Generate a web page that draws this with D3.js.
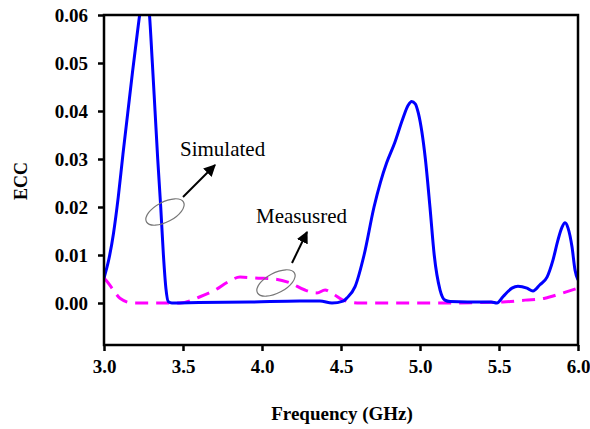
<!DOCTYPE html>
<html><head><meta charset="utf-8">
<script src="https://cdn.jsdelivr.net/npm/d3@7"></script>
<style>body{margin:0;background:#fff;} svg{display:block;} text{font-family:"Liberation Serif",serif;}</style>
</head><body>
<svg id="c" width="590" height="429"></svg>
<script>
const xTicks = [3.0, 3.5, 4.0, 4.5, 5.0, 5.5, 6.0];
const yTicks = [0.00, 0.01, 0.02, 0.03, 0.04, 0.05, 0.06];
const simFreq = [3.0,3.03,3.06,3.09,3.12,3.15,3.18,3.21,3.235,3.258,3.282,3.306,3.323,3.34,3.359,3.376,3.392,3.407,3.43,3.6,3.924,4.24,4.367,4.443,4.513,4.536,4.589,4.646,4.709,4.75,4.789,4.84,4.89,4.925,4.947,4.97,4.99,5.034,5.063,5.09,5.127,5.158,5.19,5.3,5.45,5.487,5.525,5.582,5.62,5.677,5.715,5.759,5.804,5.842,5.873,5.899,5.918,5.937,5.962,5.981,6.0];
const simECC = [0.0052,0.009,0.0145,0.022,0.031,0.0395,0.048,0.056,0.062,0.0645,0.062,0.05,0.04,0.03,0.02,0.01,0.003,0.0003,0.0,0.0001,0.0002,0.0004,0.0004,0.0,0.0004,0.001,0.0034,0.01,0.02,0.0252,0.0292,0.0334,0.0383,0.0412,0.042,0.0415,0.0395,0.03,0.02,0.01,0.0027,0.0006,0.0003,0.0002,0.0002,0.0,0.0013,0.0031,0.0035,0.0031,0.0025,0.0038,0.0054,0.009,0.0131,0.0158,0.0167,0.0156,0.0117,0.0069,0.0048];
const measFreq = [3.0,3.017,3.059,3.101,3.184,3.481,3.608,3.703,3.785,3.861,3.956,4.082,4.177,4.272,4.348,4.399,4.449,4.513,4.62,5.127,5.525,5.665,5.791,5.886,6.0];
const measECC = [0.0052,0.0046,0.0027,0.001,0.0,0.0,0.0013,0.0027,0.0044,0.0054,0.0052,0.005,0.0042,0.0027,0.0021,0.0027,0.0019,0.0006,0.0,0.0,0.0002,0.0006,0.001,0.0019,0.0031];

const svg = d3.select('#c');
const L=104, R=578, T=15, B=345;
const x = d3.scaleLinear().domain([3,6]).range([L,R]);
const y = d3.scaleLinear().domain([0,0.06]).range([303,T]);

svg.append('defs').append('clipPath').attr('id','clip')
  .append('rect').attr('x',L).attr('y',T).attr('width',R-L).attr('height',B-T);
svg.select('defs').append('marker').attr('id','arr').attr('viewBox','0 0 10 10')
  .attr('refX',9).attr('refY',5).attr('markerWidth',6).attr('markerHeight',6)
  .attr('markerUnits','strokeWidth').attr('orient','auto')
  .append('path').attr('d','M0,0 L10,5 L0,10 z').attr('fill','#000');

const line = d3.line().x(d=>x(d[0])).y(d=>y(d[1])).curve(d3.curveMonotoneX);
const g = svg.append('g').attr('clip-path','url(#clip)');
g.append('path').datum(measFreq.map((f,i)=>[f,measECC[i]])).attr('d',line)
  .attr('fill','none').attr('stroke','#ff00ff').attr('stroke-width',3).attr('stroke-dasharray','13,8');
g.append('path').datum(simFreq.map((f,i)=>[f,simECC[i]])).attr('d',line)
  .attr('fill','none').attr('stroke','#0000ff').attr('stroke-width',3);

// frame
svg.append('rect').attr('x',L).attr('y',T).attr('width',R-L).attr('height',B-T)
  .attr('fill','none').attr('stroke','#000').attr('stroke-width',2.5);

const fontF = '"Liberation Serif", serif';
function boldify(sel, size){
  sel.style('font-family',fontF).style('font-weight','bold').style('font-size',size+'px').attr('fill','#000');
}
const xAxis = svg.append('g').attr('transform',`translate(0,${B})`)
  .call(d3.axisBottom(x).tickValues(xTicks).tickFormat(d3.format('.1f')).tickSize(6).tickSizeOuter(0));
const yAxis = svg.append('g').attr('transform',`translate(${L},0)`)
  .call(d3.axisLeft(y).tickValues(yTicks).tickFormat(d3.format('.2f')).tickSize(6).tickSizeOuter(0));
[xAxis,yAxis].forEach(a=>{
  a.attr('font-family',fontF);
  a.select('.domain').remove();
  a.selectAll('line').attr('stroke','#000').attr('stroke-width',2.5);
  boldify(a.selectAll('text'), 19);
});
xAxis.selectAll('text').attr('dy',0).attr('y',28);
yAxis.selectAll('text').attr('x',-16).attr('dy','0.35em');

boldify(svg.append('text').attr('x',342).attr('y',420).attr('text-anchor','middle').text('Frequency (GHz)'), 19);
boldify(svg.append('text').attr('transform','translate(27,181) rotate(-90)').attr('text-anchor','middle').text('ECC'), 18);

// annotations
const ann = svg.append('g');
ann.append('ellipse').attr('cx',165).attr('cy',212).attr('rx',21).attr('ry',10)
  .attr('transform','rotate(-28,165,212)').attr('fill','none').attr('stroke','#777').attr('stroke-width',1.2);
ann.append('line').attr('x1',183).attr('y1',197).attr('x2',215).attr('y2',165)
  .attr('stroke','#000').attr('stroke-width',2).attr('marker-end','url(#arr)');
ann.append('text').attr('x',180).attr('y',156).style('font-family',fontF).style('font-size','21px').text('Simulated');
ann.append('ellipse').attr('cx',276).attr('cy',283).attr('rx',21).attr('ry',10)
  .attr('transform','rotate(-28,276,283)').attr('fill','none').attr('stroke','#777').attr('stroke-width',1.2);
ann.append('line').attr('x1',292).attr('y1',263).attr('x2',307).attr('y2',232)
  .attr('stroke','#000').attr('stroke-width',2).attr('marker-end','url(#arr)');
ann.append('text').attr('x',256).attr('y',223).style('font-family',fontF).style('font-size','21px').text('Measusred');
</script>
</body></html>
